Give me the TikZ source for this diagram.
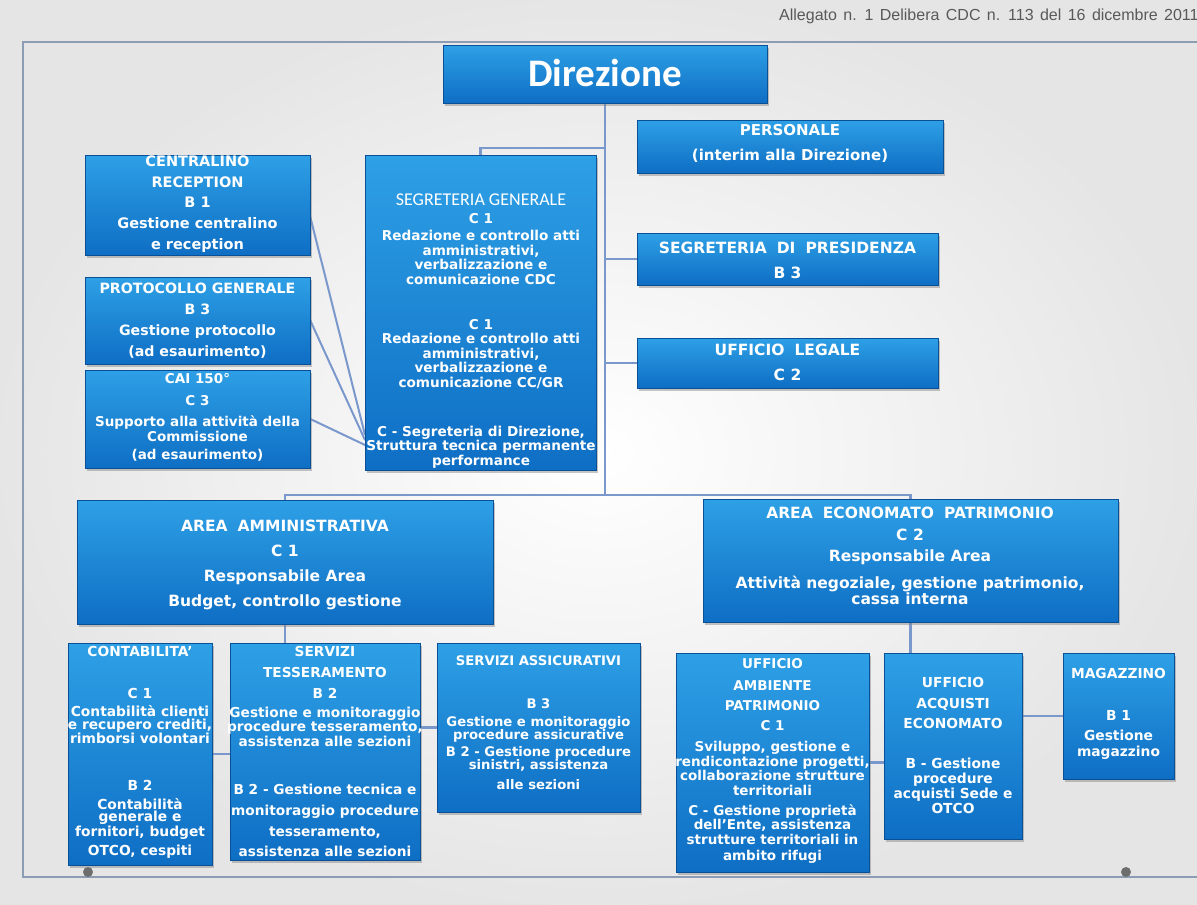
\documentclass[tikz,border=0pt]{standalone}
\usepackage{fontspec}
\setmainfont{DejaVu Sans}
\newfontfamily\calfont{Carlito}
\newfontfamily\notefont{Liberation Sans}
\usetikzlibrary{shadows, calc}

\definecolor{boxtop}{RGB}{46,160,230}
\definecolor{boxbot}{RGB}{14,110,196}
\definecolor{boxedge}{RGB}{10,80,150}
\definecolor{linkblue}{RGB}{122,152,204}
\definecolor{framegray}{RGB}{140,156,178}
\definecolor{dotgray}{RGB}{110,110,110}

\newcommand{\widesp}{\spaceskip=.65em\relax}

\pgfdeclarelayer{back}
\pgfdeclarelayer{links}
\pgfsetlayers{back,links,main}

\begin{document}
\begin{tikzpicture}[
            x = 1pt, y = -1pt, % pixel grid, y going down
            link/.style = {draw = linkblue, line width = 2.6pt}, % connector lines
            boxtxt/.style 2 args = {
                text = white,
                align = center,
                inner sep = 0pt,
                font = \bfseries\fontsize{#1}{#2}\selectfont
            }
        ]

        \tikzstyle{orgbox}=[
            rectangle,
            top color = boxtop,
            bottom color = boxbot,
            draw = boxedge,
            line width = .6pt,
            drop shadow = {shadow xshift = 2pt, shadow yshift = -2.5pt, opacity = .45},
            inner sep = 0pt
        ]

        \useasboundingbox (0,0) rectangle (1197,905);

        \begin{pgfonlayer}{back}
            \shade[inner color = white, outer color = black!10] (0,0) rectangle (1197,905);
            \draw[framegray, line width = 1.2pt] (1210,42) -- (23,42) -- (23,877) -- (1210,877);
        \end{pgfonlayer}

        \node[anchor = base west, inner sep = 0pt, text = black!65,
              font = \notefont\fontsize{16}{16}\selectfont] (note) at (779,20)
              {\spaceskip=.4em\relax Allegato n. 1 Delibera CDC n. 113 del 16 dicembre 2011};

        % top level
        \node[orgbox, minimum width = 324pt, minimum height = 58pt] (dir) at (605,74) {};
        \node[text = white, inner sep = 0pt, font = \calfont\bfseries\fontsize{39}{39}\selectfont] (dir-t) at (605,73) {Direzione};

        % staff on the right
        \node[orgbox, minimum width = 306pt, minimum height = 53pt] (pers) at (790,146.5) {};
        \node[boxtxt = {15}{25}] (pers-t) at (790,143) {PERSONALE\\ (interim alla Direzione)};

        \node[orgbox, minimum width = 301pt, minimum height = 52pt] (pres) at (787.5,259) {};
        \node[boxtxt = {15.5}{25}] (pres-t) at (787.5,260.5) {\widesp SEGRETERIA DI PRESIDENZA\\ B 3};

        \node[orgbox, minimum width = 301pt, minimum height = 50pt] (leg) at (787.5,363) {};
        \node[boxtxt = {15.5}{25}] (leg-t) at (787.5,362.5) {\widesp UFFICIO LEGALE\\ C 2};

        % segreteria generale
        \node[orgbox, minimum width = 231pt, minimum height = 315pt] (segen) at (480.5,312.5) {};
        \node[boxtxt = {13.6}{14.5}] (segen-t) at (481,331) {{\calfont\mdseries\fontsize{18}{14.5}\selectfont SEGRETERIA GENERALE}\\[3.5pt]
            C 1\\[2.5pt] Redazione e controllo atti\\ amministrativi,\\ verbalizzazione e\\ comunicazione CDC\\[30.5pt]
            C 1\\ Redazione e controllo atti\\ amministrativi,\\ verbalizzazione e\\ comunicazione CC/GR\\[34.5pt]
            C - Segreteria di Direzione,\\ Struttura tecnica permanente\\ performance};

        % staff on the left
        \node[orgbox, minimum width = 225pt, minimum height = 100pt] (cent) at (197.5,205) {};
        \node[boxtxt = {14.5}{20.8}] (cent-t) at (197.5,204) {CENTRALINO\\ RECEPTION\\ B 1\\ Gestione centralino\\ e reception};

        \node[orgbox, minimum width = 225pt, minimum height = 87pt] (prot) at (197.5,320.5) {};
        \node[boxtxt = {14.2}{21}] (prot-t) at (197.5,320.5) {PROTOCOLLO GENERALE\\ B 3\\ Gestione protocollo\\ (ad esaurimento)};

        \node[orgbox, minimum width = 225pt, minimum height = 98pt] (cai) at (197.5,419) {};
        \node[boxtxt = {13.5}{14.5}] (cai-t) at (197.5,417.5) {CAI 150°\\[7.5pt] C 3\\[6.5pt] Supporto alla attività della\\ Commissione\\[3.5pt] (ad esaurimento)};

        % areas
        \node[orgbox, minimum width = 416pt, minimum height = 124pt] (amm) at (285,562) {};
        \node[boxtxt = {15.5}{25}] (amm-t) at (285,564.5) {\widesp AREA AMMINISTRATIVA\\ C 1\\ Responsabile Area\\ Budget, controllo gestione};

        \node[orgbox, minimum width = 415pt, minimum height = 123pt] (econ) at (910.5,560.5) {};
        \node[boxtxt = {15.5}{14.5}] (econ-t) at (910,556) {\widesp AREA ECONOMATO PATRIMONIO\\[7.5pt] C 2\\[6.5pt] Responsabile Area\\[10.5pt]
            Attività negoziale, gestione patrimonio,\\ cassa interna};

        % offices
        \node[orgbox, minimum width = 144pt, minimum height = 222pt] (cont) at (140,754) {};
        \node[boxtxt = {13.8}{12.4}] (cont-t) at (140,752) {CONTABILITA’\\[29.5pt] C 1\\[6.5pt] Contabilità clienti\\ e recupero crediti,\\ rimborsi volontari\\[34.5pt]
            B 2\\[6.5pt] Contabilità\\ generale e\\ fornitori, budget\\[4.5pt] OTCO, cespiti};

        \node[orgbox, minimum width = 190pt, minimum height = 217pt] (tess) at (325,751.5) {};
        \node[boxtxt = {13.7}{12.4}] (tess-t) at (325,751.5) {SERVIZI\\[8.6pt] TESSERAMENTO\\[8.6pt] B 2\\[6.6pt] Gestione e monitoraggio\\ procedure tesseramento,\\ assistenza alle sezioni\\[35.6pt]
            B 2 - Gestione tecnica e\\[8.6pt] monitoraggio procedure\\[7.6pt] tesseramento,\\[7.6pt] assistenza alle sezioni};

        \node[orgbox, minimum width = 203pt, minimum height = 169pt] (assic) at (538.5,727.5) {};
        \node[boxtxt = {13.2}{13}] (assic-t) at (538.5,723) {SERVIZI ASSICURATIVI\\[30pt] B 3\\[5pt] Gestione e monitoraggio\\ procedure assicurative\\[4pt]
            B 2 - Gestione procedure\\ sinistri, assistenza\\[7pt] alle sezioni};

        \node[orgbox, minimum width = 193pt, minimum height = 219pt] (amb) at (772.5,762.5) {};
        \node[boxtxt = {13.5}{14.5}] (amb-t) at (772.5,761) {UFFICIO\\[7.5pt] AMBIENTE\\[5.5pt] PATRIMONIO\\[5.5pt] C 1\\[6.5pt]
            Sviluppo, gestione e\\ rendicontazione progetti,\\ collaborazione strutture\\ territoriali\\[5.5pt]
            C - Gestione proprietà\\ dell’Ente, assistenza\\ strutture territoriali in\\[1.5pt] ambito rifugi};

        \node[orgbox, minimum width = 138pt, minimum height = 186pt] (acq) at (953,746) {};
        \node[boxtxt = {13.8}{15}] (acq-t) at (953,745) {UFFICIO\\[6pt] ACQUISTI\\[5pt] ECONOMATO\\[25pt] B - Gestione\\ procedure\\ acquisti Sede e\\ OTCO};

        \node[orgbox, minimum width = 111pt, minimum height = 126pt] (mag) at (1118.5,716) {};
        \node[boxtxt = {13.8}{16}] (mag-t) at (1118.5,714) {MAGAZZINO\\[26pt] B 1\\[4pt] Gestione\\ magazzino};

        % connectors
        \begin{pgfonlayer}{links}
            \coordinate (jTop) at (605,148);
            \coordinate (jBot) at (605,495);
            \coordinate (sgIn1) at (365,435);
            \coordinate (sgIn2) at (365,440);
            \coordinate (sgIn3) at (365,445);

            \draw[link] (dir.south) -- (jBot);
            \draw[link] (segen.north) |- (jTop);
            \draw[link] ($(pers.west)+(0,-3)$) -- ($(pers.west)+(0,-3)$ -| jBot);
            \draw[link] (pres.west) -- (pres.west -| jBot);
            \draw[link] (leg.west) -- (leg.west -| jBot);
            \draw[link] (amm.north) |- (jBot);
            \draw[link] (econ.north) |- (jBot);

            \draw[link, line width = 2pt] ($(cent.east)+(0,12)$) -- (sgIn1);
            \draw[link, line width = 2pt] (prot.east) -- (sgIn2);
            \draw[link, line width = 2pt] (cai.east) -- (sgIn3);

            \draw[link] (amm.south) -- (amm.south |- tess.north);
            \draw[link] (cont.east) -- (cont.east -| tess.west);
            \draw[link] (assic.west -| tess.east) -- (assic.west);
            \draw[link] (econ.south) -- (econ.south |- acq.north);
            \draw[link] (amb.east) -- (amb.east -| acq.west);
            \draw[link] (mag.west -| acq.east) -- (mag.west);
        \end{pgfonlayer}

        % slide dots
        \fill[dotgray] (88,872) circle[radius = 5];
        \fill[dotgray] (1126,872) circle[radius = 5];
    \end{tikzpicture}
\end{document}
